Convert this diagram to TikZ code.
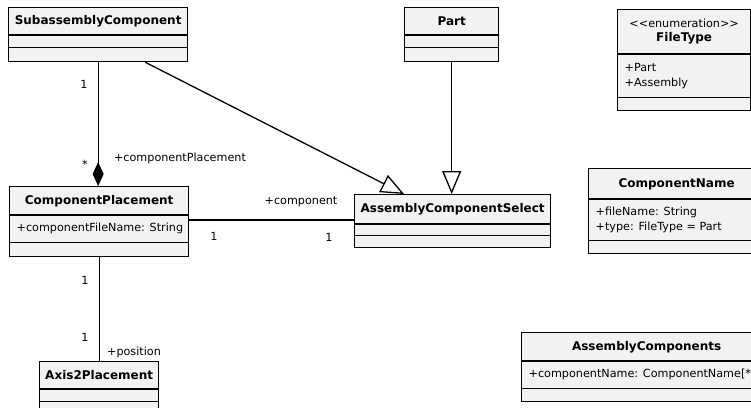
\documentclass[tikz,border=0pt]{standalone}
\usepackage{fontspec}
\setmainfont{DejaVu Sans}
\usetikzlibrary{shapes.multipart,arrows.meta}

% one compartment of a class box: width, height, text
\newcommand{\ctitle}[3]{\parbox[c][#2pt][c]{#1pt}{\centering\fontsize{12pt}{14pt}\selectfont\bfseries #3}}
\newcommand{\cstereo}[4]{\parbox[c][#2pt][c]{#1pt}{\centering #3\\\fontsize{12pt}{14pt}\selectfont\bfseries #4}}
\newcommand{\crow}[3]{\parbox[c][#2pt][c]{#1pt}{\raggedright\leftskip=7pt #3}}
\newcommand{\cgap}[2]{\parbox[c][#2pt][c]{#1pt}{\mbox{}}}

\begin{document}
\begin{tikzpicture}[
    x=1pt, y=-1pt,
    font=\fontsize{11.2pt}{15pt}\selectfont,
    umlclass/.style={draw, rectangle split, rectangle split parts=3, inner sep=0pt, anchor=north west, fill=black!5, line width=1.3pt},
    link/.style={line width=1.3pt},
    comp/.style={link, -{Diamond[length=24pt, width=11pt]}},
    inherit/.style={link, -{Triangle[length=23pt, width=19pt, fill=white]}},
    mult/.style={inner sep=1pt}
]
    \useasboundingbox (0,0) rectangle (751,407);
    \clip (0,0) rectangle (751,407);

    % Classi
    \node[umlclass] (subasm) at (8,7) {\ctitle{179}{26}{SubassemblyComponent}\nodepart{two}\cgap{179}{11}\nodepart{three}\cgap{179}{13}};
    \node[umlclass] (part) at (404,7) {\ctitle{94}{26}{Part}\nodepart{two}\cgap{94}{11}\nodepart{three}\cgap{94}{13}};
    \node[umlclass] (filetype) at (617,9) {\cstereo{133}{43}{<{}<enumeration>{}>}{FileType}\nodepart{two}\crow{133}{42}{+Part\\+Assembly}\nodepart{three}\cgap{133}{12}};
    \node[umlclass] (cp) at (9,186) {\ctitle{179}{27}{ComponentPlacement}\nodepart{two}\crow{179}{26}{+componentFileName: String}\nodepart{three}\cgap{179}{13}};
    \node[umlclass] (acs) at (354,194) {\ctitle{196}{28}{AssemblyComponentSelect}\nodepart{two}\cgap{196}{10}\nodepart{three}\cgap{196}{11}};
    \node[umlclass] (compname) at (588,168) {\ctitle{176}{29}{ComponentName}\nodepart{two}\crow{176}{40}{+fileName: String\\+type: FileType = Part}\nodepart{three}\cgap{176}{12}};
    \node[umlclass] (axis) at (39,361) {\ctitle{119}{26}{Axis2Placement}\nodepart{two}\cgap{119}{11}\nodepart{three}\cgap{119}{13}};
    \node[umlclass] (asmcomps) at (521,332) {\ctitle{250}{27}{AssemblyComponents}\nodepart{two}\crow{250}{26}{+componentName: ComponentName[*]}\nodepart{three}\cgap{250}{12}};

    % Associazioni
    \draw[comp] (subasm.south) -- (subasm.south |- cp.north);
    \draw[inherit] ([xshift=47pt]subasm.south) -- ([xshift=50pt]acs.north west);
    \draw[inherit] (part.south) -- (part.south |- acs.north);
    \draw[link] ([yshift=-34pt]cp.north east) -- ([yshift=-34pt]cp.north east -| acs.west);
    \draw[link] (cp.south) -- (cp.south |- axis.north);

    % Etichette
    \node[mult] (m1) at (84,84) {1};
    \node[mult] (m2) at (85,164) {*};
    \node[mult] (r1) at (180,158) {+componentPlacement};
    \node[mult] (r2) at (301,202) {+component};
    \node[mult] (m3) at (214,236) {1};
    \node[mult] (m4) at (329,237) {1};
    \node[mult] (m5) at (85,280) {1};
    \node[mult] (m6) at (85,337) {1};
    \node[mult] (r3) at (134,352) {+position};
\end{tikzpicture}
\end{document}
